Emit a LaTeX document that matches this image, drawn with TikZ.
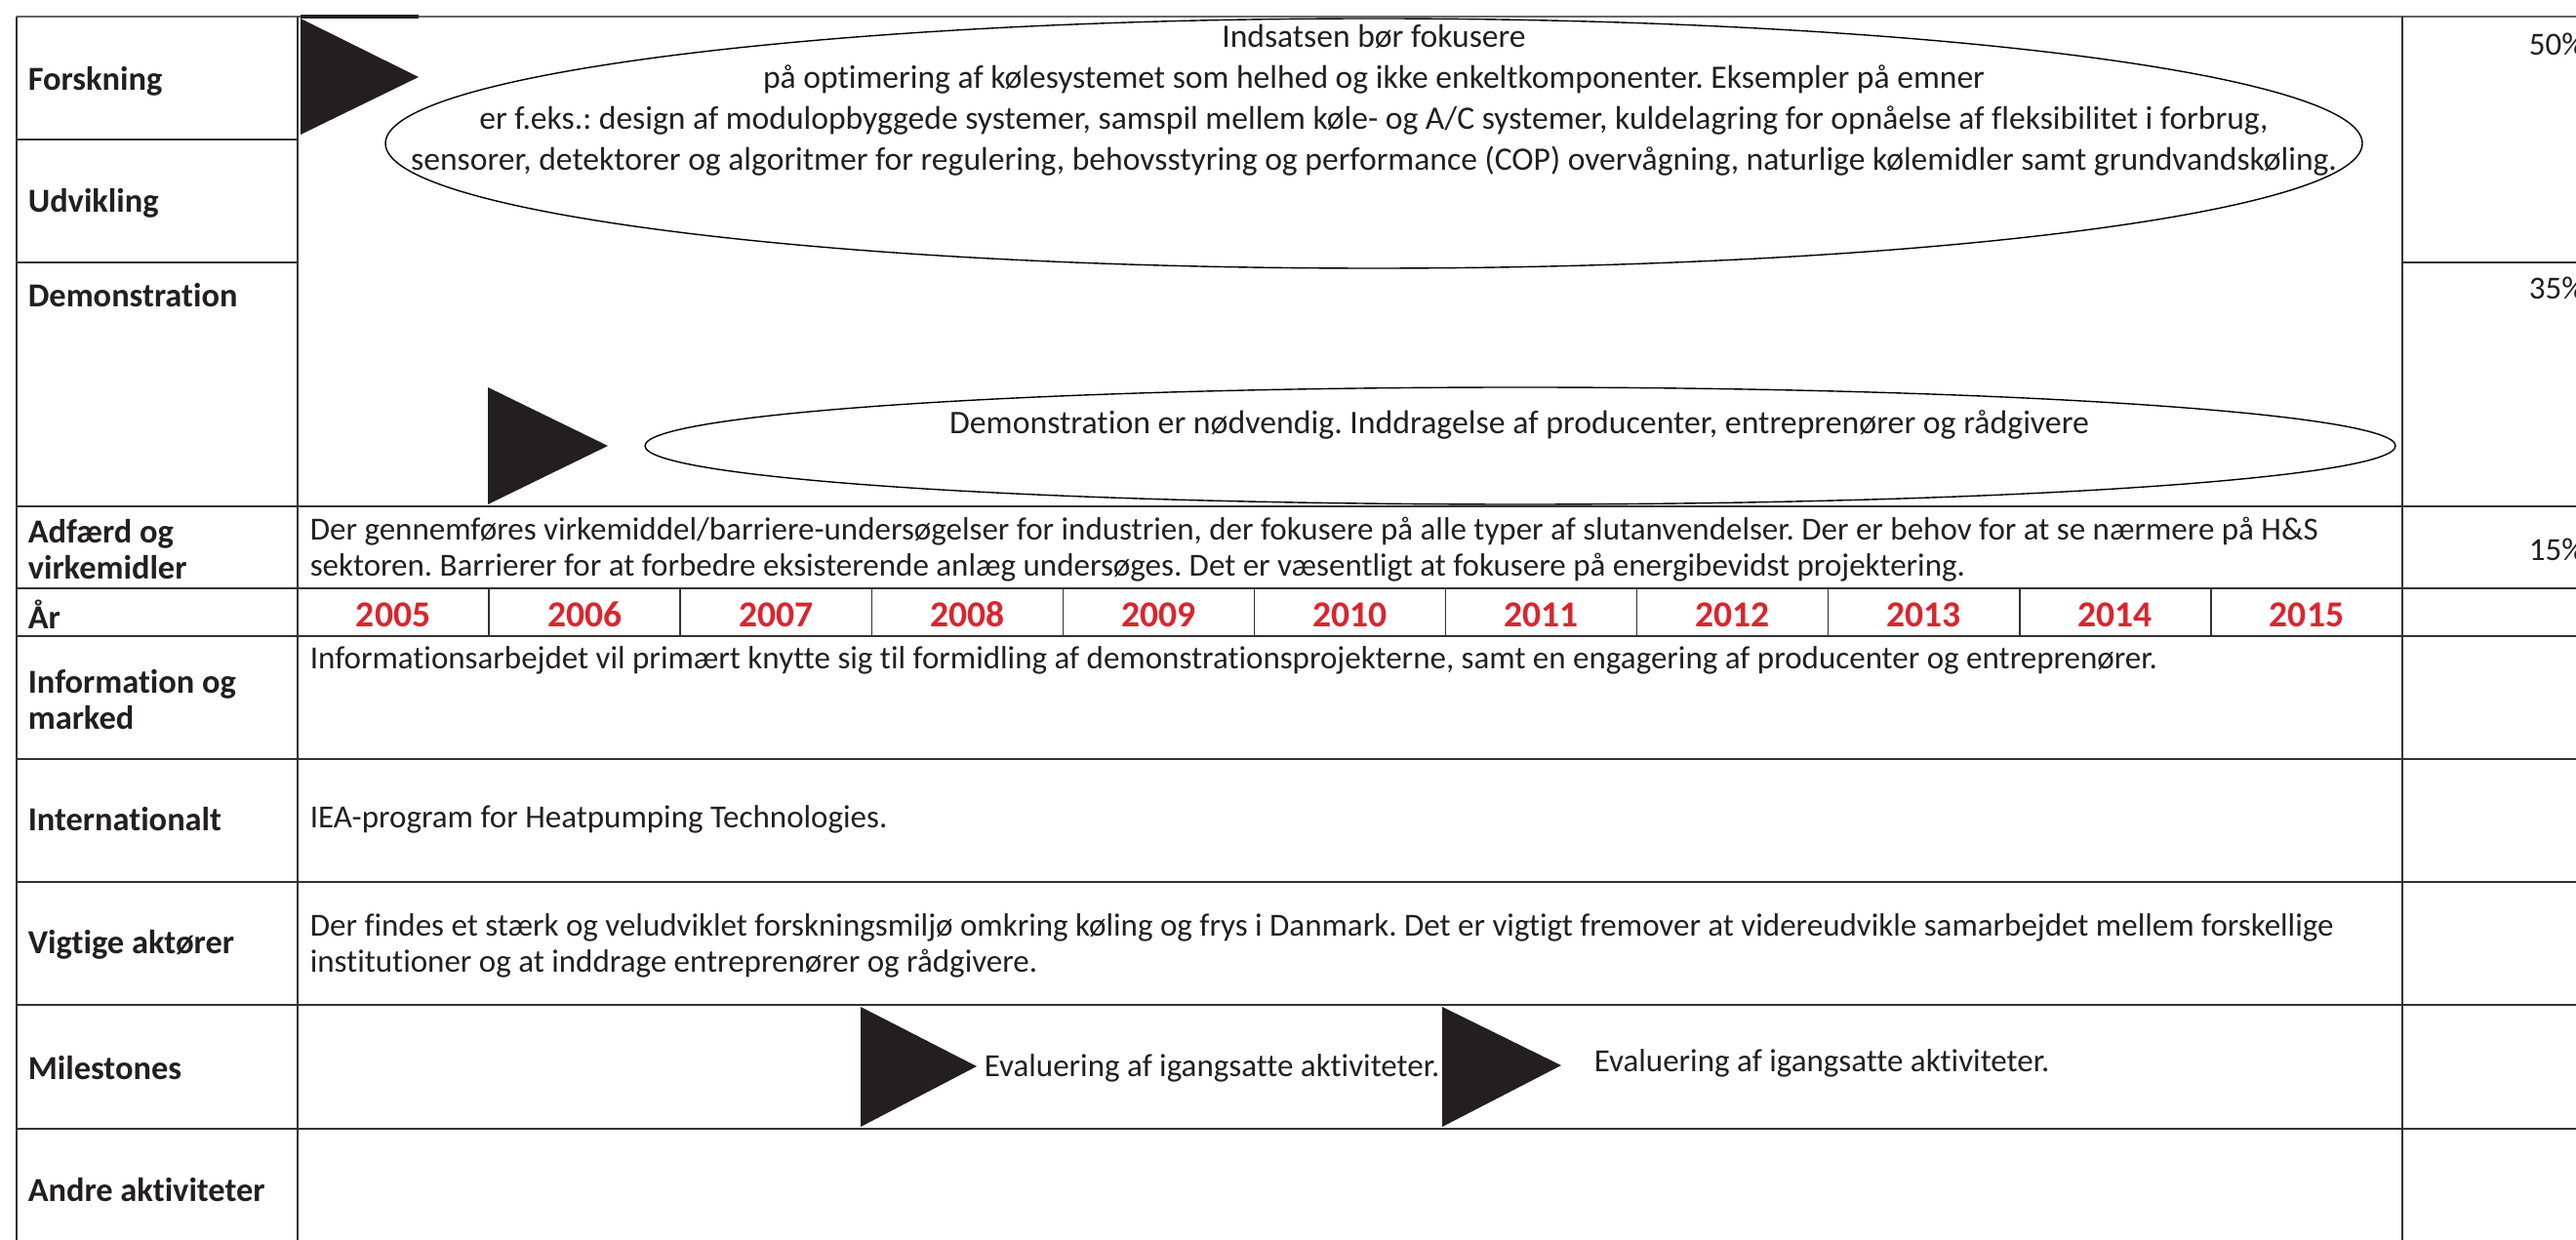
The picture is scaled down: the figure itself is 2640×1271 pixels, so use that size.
\documentclass[tikz,border=0pt]{standalone}
\usepackage{fontspec}
\setmainfont{Carlito}[Ligatures=NoCommon]
\definecolor{yr}{RGB}{218,37,46}
\definecolor{ink}{RGB}{35,31,32}
\definecolor{rule}{RGB}{50,50,50}
\frenchspacing
\begin{document}
\begin{tikzpicture}[x=0.25pt,y=-0.25pt,
  hline/.style={draw=rule, line width=0.5pt},
  vline/.style={draw=rule, line width=0.35pt},
  lbl/.style={font=\fontsize{8.6pt}{9.25pt}\selectfont\bfseries, anchor=west, align=left, inner sep=0pt, text=ink},
  body/.style={font=\fontsize{8.25pt}{9.25pt}\selectfont, anchor=west, align=left, inner sep=0pt, text=ink},
  yearlbl/.style={font=\fontsize{9.4pt}{9.25pt}\selectfont\bfseries, text=yr, inner sep=0pt},
  tri/.style={fill=ink, draw=none},
  oval/.style={draw=black, line width=0.35pt}]
\useasboundingbox (0,0) rectangle (2640,1271);
\clip (0,0) rectangle (2640,1271);
\fill[white] (0,0) rectangle (2640,1271);

% ---------- grid ----------
\draw[hline, draw=black!60, line width=0.7pt] (17,17) -- (2640,17);
\draw[vline] (17,17) -- (17,1271);
\draw[vline] (305,17) -- (305,1271);
\draw[vline] (2462,17) -- (2462,1271);
\draw[hline] (17,143) -- (305,143);
\draw[hline] (17,269) -- (305,269);
\draw[hline] (2462,269) -- (2640,269);
\foreach \yy in {519,603,652,778,904,1030,1157}
  \draw[hline] (17,\yy) -- (2640,\yy);
\foreach \k in {1,...,10}
  \draw[vline] ({305+196.09*\k},603) -- ({305+196.09*\k},652);

% ---------- row labels ----------
\node[lbl] (lForsk) at (28,83) {Forskning};
\node[lbl] (lUdv) at (28,208) {Udvikling};
\node[lbl] (lDemo) at (28,303) {Demonstration};
\node[lbl] (lAdf) at (28,563) {Adfærd og\\virkemidler};
\node[lbl] (lAar) at (28,630) {År};
\node[lbl] (lInfo) at (28,717) {Information og\\marked};
\node[lbl] (lInt) at (28,840) {Internationalt};
\node[lbl] (lVig) at (28,968) {Vigtige aktører};
\node[lbl] (lMil) at (28,1095) {Milestones};
\node[lbl] (lAnd) at (28,1220) {Andre aktiviteter};

% ---------- percentages ----------
\node[body] (p50) at (2591,45) {50\%};
\node[body] (p35) at (2591,295) {35\%};
\node[body] (p15) at (2591,563) {15\%};

% ---------- years ----------
\foreach \yr [count=\i from 0] in {2005,2006,2007,2008,2009,2010,2011,2012,2013,2014,2015}
  \node[yearlbl] (y\yr) at ({305+196.09*(\i+0.5)},630) {\yr};

% ---------- Forskning / Udvikling ----------
\fill[tri] (308,19) -- (429,79) -- (308,138) -- cycle;
\draw[ink, line width=1pt] (308,17) -- (429,17);
\draw[oval] (1408,147) ellipse [x radius=1013, y radius=128];
\node[font=\fontsize{8.4pt}{10.5pt}\selectfont, align=center, inner sep=0pt, text=ink] (eForsk) at (1408,103)
 {Indsatsen bør fokusere\\
  på optimering af kølesystemet som helhed og ikke enkeltkomponenter. Eksempler på emner\\
  er f.eks.: design af modulopbyggede systemer, samspil mellem køle- og A/C systemer, kuldelagring for opnåelse af fleksibilitet i forbrug,\\
  sensorer, detektorer og algoritmer for regulering, behovsstyring og performance (COP) overvågning, naturlige kølemidler samt grundvandskøling.};

% ---------- Demonstration ----------
\fill[tri] (500,397) -- (623,457) -- (500,517) -- cycle;
\draw[oval] (1558,457) ellipse [x radius=897, y radius=60];
\node[font=\fontsize{8.45pt}{9.25pt}\selectfont, inner sep=0pt, text=ink] (eDemo) at (1557,435)
 {Demonstration er nødvendig. Inddragelse af producenter, entreprenører og rådgivere};

% ---------- body texts ----------
\node[body] (tAdf) at (317,563)
 {Der gennemføres virkemiddel/barriere-undersøgelser for industrien, der fokusere på alle typer af slutanvendelser. Der er behov for at se nærmere på H\&S\\
  sektoren. Barrierer for at forbedre eksisterende anlæg undersøges. Det er væsentligt at fokusere på energibevidst projektering.};
\node[body] (tInfo) at (317,677)
 {Informationsarbejdet vil primært knytte sig til formidling af demonstrationsprojekterne, samt en engagering af producenter og entreprenører.};
\node[body] (tInt) at (317,840) {IEA-program for Heatpumping Technologies.};
\node[body] (tVig) at (317,969)
 {Der findes et stærk og veludviklet forskningsmiljø omkring køling og frys i Danmark. Det er vigtigt fremover at videreudvikle samarbejdet mellem forskellige\\
  institutioner og at inddrage entreprenører og rådgivere.};

% ---------- Milestones ----------
\fill[tri] (882,1032) -- (1001,1093) -- (882,1155) -- cycle;
\node[body] (m1) at (1008,1095) {Evaluering af igangsatte aktiviteter.};
\fill[tri] (1478,1032) -- (1600,1092) -- (1478,1155) -- cycle;
\node[body] (m2) at (1633,1090) {Evaluering af igangsatte aktiviteter.};
\end{tikzpicture}
\end{document}
